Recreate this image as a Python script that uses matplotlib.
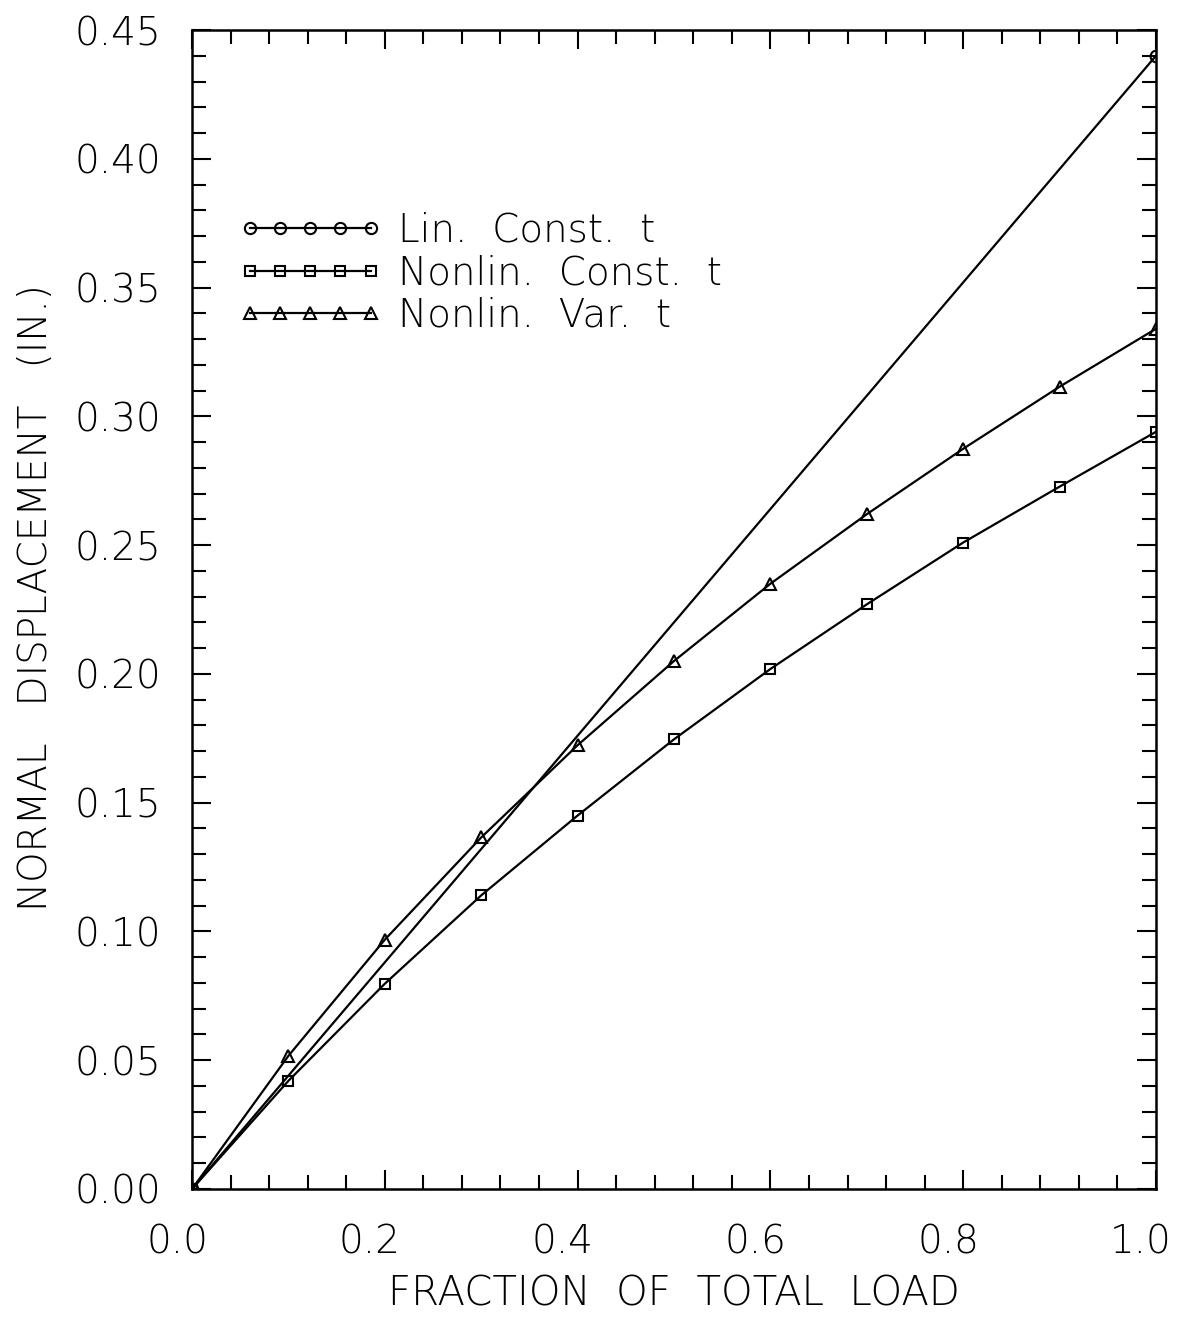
import matplotlib
matplotlib.use("Agg")
import matplotlib.pyplot as plt
from matplotlib.ticker import MultipleLocator, FormatStrFormatter
from matplotlib.transforms import ScaledTranslation

# Load fractions and normal displacements (in.)
load_lin = [0.0, 1.0]
disp_lin = [0.0, 0.44]

load = [0.0, 0.1, 0.2, 0.3, 0.4, 0.5, 0.6, 0.7, 0.8, 0.9, 1.0]
disp_nonlin_const = [0.0, 0.042, 0.0797, 0.114, 0.145, 0.1746, 0.2019, 0.227, 0.251, 0.2727, 0.294]
disp_nonlin_var = [0.0, 0.0517, 0.0968, 0.1365, 0.1723, 0.205, 0.235, 0.262, 0.2874, 0.3115, 0.334]

labels = ["Lin.  Const.  t", "Nonlin.  Const.  t", "Nonlin.  Var.  t"]
xlabel = "FRACTION  OF  TOTAL  LOAD"
ylabel = "NORMAL   DISPLACEMENT   (IN.)"

plt.rcParams["font.family"] = ["DejaVu Sans"]
plt.rcParams["font.weight"] = "light"
plt.rcParams["axes.labelweight"] = "light"

fig = plt.figure(figsize=(11.81, 13.17), dpi=100)
ax = fig.add_axes([0.1626, 0.0972, 0.8162, 0.88])

lw = 1.6
ms = 8.5
ax.plot(load_lin, disp_lin, color="black", lw=lw, marker="o", ms=ms,
        mfc="none", mew=1.5, label=labels[0])
ax.plot(load, disp_nonlin_const, color="black", lw=lw, marker="s", ms=ms - 1,
        mfc="none", mew=1.5, label=labels[1])
ax.plot(load, disp_nonlin_var, color="black", lw=lw, marker="^", ms=ms,
        mfc="none", mew=1.5, label=labels[2])

ax.set_xlim(0.0, 1.0)
ax.set_ylim(0.0, 0.45)
ax.xaxis.set_major_locator(MultipleLocator(0.2))
ax.xaxis.set_minor_locator(MultipleLocator(0.04))
ax.yaxis.set_major_locator(MultipleLocator(0.05))
ax.yaxis.set_minor_locator(MultipleLocator(0.01))
ax.xaxis.set_major_formatter(FormatStrFormatter("%.1f"))
ax.yaxis.set_major_formatter(FormatStrFormatter("%.2f"))

ax.tick_params(which="both", direction="in", top=True, right=True, width=1.5,
               labelsize=28)
ax.tick_params(which="major", length=14)
ax.tick_params(which="minor", length=10)
ax.tick_params(axis="x", which="major", pad=25)
ax.tick_params(axis="y", which="major", pad=22)
for s in ax.spines.values():
    s.set_linewidth(1.8)

ax.set_xlabel(xlabel, fontsize=29, labelpad=9)
ax.set_ylabel(ylabel, fontsize=28)
ax.yaxis.set_label_coords(-0.142, 0.51)

ax.legend(loc="upper left", bbox_to_anchor=(0.048, 0.843), frameon=False,
          numpoints=5, handlelength=3.7, handletextpad=0.41, fontsize=28,
          labelspacing=0.11, borderpad=0, borderaxespad=0, markerscale=0.95)

# x tick labels sit slightly left of their ticks
fig.canvas.draw()
shift = ScaledTranslation(-0.15, 0, fig.dpi_scale_trans)
for lab in ax.get_xticklabels():
    lab.set_transform(lab.get_transform() + shift)

fig.savefig("out.png", dpi=100)
